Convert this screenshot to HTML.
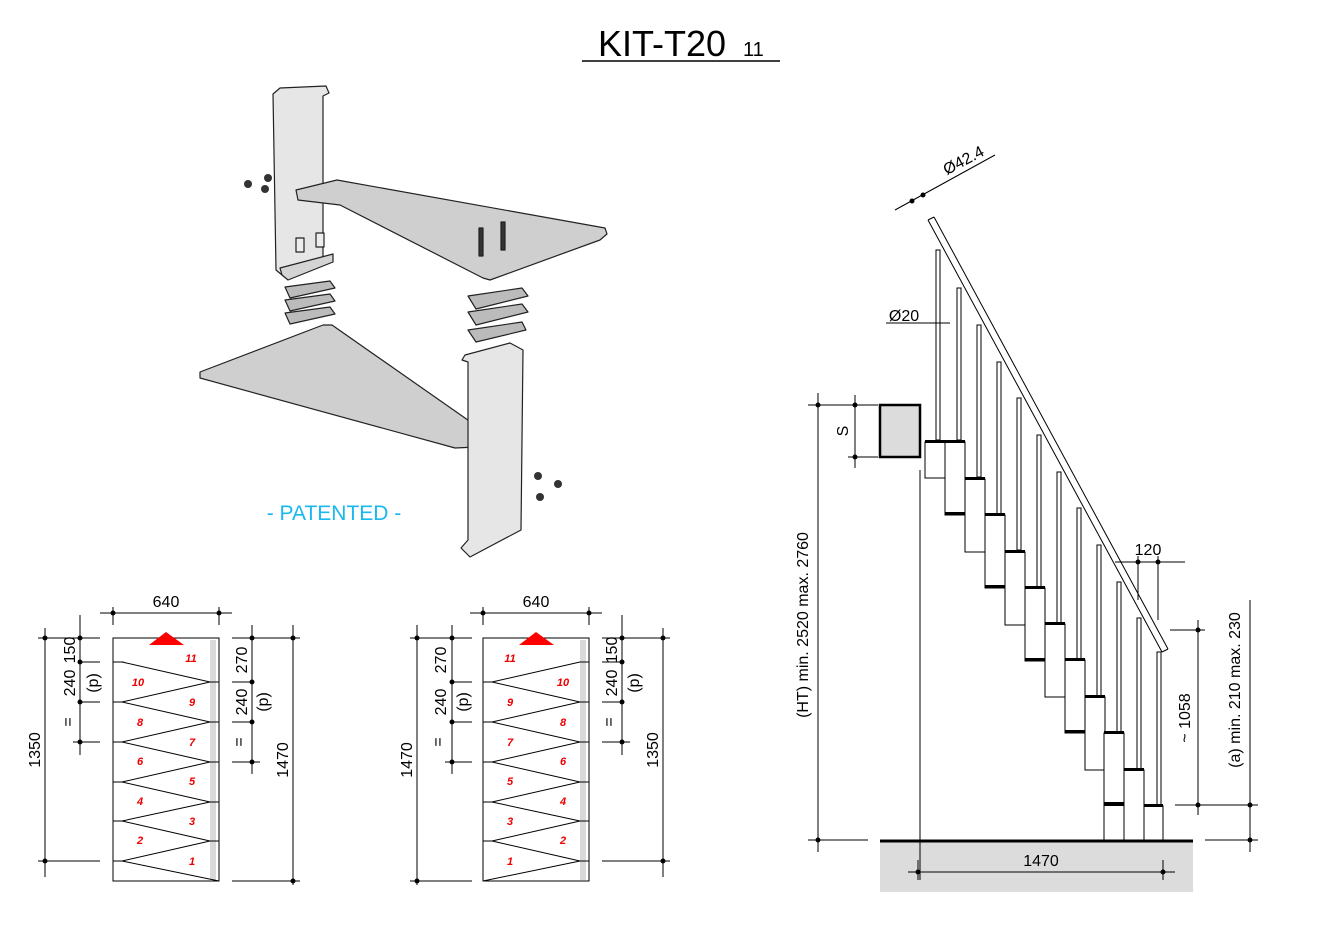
<!DOCTYPE html>
<html><head><meta charset="utf-8"><style>
html,body{margin:0;padding:0;background:#fff;}
svg{display:block;font-family:"Liberation Sans",sans-serif;}
</style></head><body>
<svg width="1335" height="937" viewBox="0 0 1335 937" xmlns="http://www.w3.org/2000/svg">
<!-- Title -->
<text x="598" y="56" font-size="36" fill="#000">KIT-T20</text>
<text x="743" y="56" font-size="20" fill="#000">11</text>
<line x1="582" y1="61" x2="780" y2="61" stroke="#000" stroke-width="1.5"/>

<!-- 3D exploded -->
<g stroke="#222" stroke-width="1.2" stroke-linejoin="round">
<polygon points="273,94 280,88 326,86 329,93 323,96 323,262 300,270 282,275 276,270" fill="#e6e6e6"/>
<polygon points="282,275 280,268 333,254 333,262 288,280" fill="#d4d4d4"/>
<polygon points="296,190 337,180 605,228 607,234 600,240 490,280 483,278 340,205 298,200" fill="#cfcfcf"/>
<polygon points="200,372 323,325 332,325 475,425 477,447 455,448 200,378" fill="#cfcfcf"/>
<polygon points="465,355 510,343 523,350 521,530 470,557 461,548 468,540 468,362 462,360" fill="#e6e6e6"/>
<polygon points="285,287 330,281 335,288 290,298" fill="#bbb"/>
<polygon points="285,300 330,294 335,301 290,311" fill="#bbb"/>
<polygon points="285,313 330,307 335,314 290,324" fill="#bbb"/>
<polygon points="468,296 522,288 528,296 476,309" fill="#bbb"/>
<polygon points="468,312 522,304 528,312 476,325" fill="#bbb"/>
<polygon points="468,330 522,322 526,330 476,342" fill="#bbb"/>
<rect x="479" y="228" width="4" height="28" fill="#333"/>
<rect x="501" y="222" width="4" height="28" fill="#333"/>
<rect x="296" y="238" width="8" height="14" fill="#eee"/>
<rect x="316" y="233" width="8" height="14" fill="#eee"/>
</g>
<g fill="#333">
<circle cx="248" cy="184" r="4"/><circle cx="268" cy="178" r="4"/><circle cx="265" cy="189" r="4"/>
<circle cx="538" cy="476" r="4"/><circle cx="558" cy="484" r="4"/><circle cx="540" cy="497" r="4"/>
</g>
<text x="334" y="520" font-size="21" fill="#1ab8f0" text-anchor="middle">- PATENTED -</text>

<!-- LEFT PLAN -->
<g stroke="#000" stroke-width="1" fill="none">
<rect x="210" y="640" width="6" height="240" fill="#d9d9d9" stroke="none"/>
<rect x="113" y="638" width="106" height="243"/>
<path d="M113,662 H122 L210,682 L122,702 L210,722 L122,742 L210,762 L122,782 L210,802 L122,821 L210,841 L122,861 L219,881 M113,702 H122 M113,742 H122 M113,782 H122 M113,821 H122 M113,861 H122 M122,662 L210,682 M210,682 H219 M210,722 H219 M210,762 H219 M210,802 H219 M210,841 H219"/>
<!-- dims -->
<line x1="113" y1="613" x2="219" y2="613"/><line x1="100" y1="613" x2="232" y2="613"/>
<line x1="113" y1="607" x2="113" y2="625"/><line x1="219" y1="607" x2="219" y2="625"/>
<line x1="45" y1="628" x2="45" y2="877"/><line x1="38" y1="638" x2="100" y2="638"/><line x1="38" y1="861" x2="100" y2="861"/>
<line x1="80" y1="615" x2="80" y2="755"/><line x1="80" y1="662" x2="100" y2="662"/><line x1="80" y1="702" x2="100" y2="702"/><line x1="73" y1="742" x2="100" y2="742"/>
<line x1="252" y1="625" x2="252" y2="774"/><line x1="232" y1="638" x2="300" y2="638"/><line x1="232" y1="682" x2="252" y2="682"/><line x1="232" y1="722" x2="252" y2="722"/><line x1="232" y1="762" x2="260" y2="762"/>
<line x1="293" y1="625" x2="293" y2="885"/><line x1="232" y1="881" x2="300" y2="881"/>
</g>
<g fill="#000">
<circle cx="113" cy="613" r="2.5"/><circle cx="219" cy="613" r="2.5"/>
<circle cx="45" cy="638" r="2.5"/><circle cx="45" cy="861" r="2.5"/>
<circle cx="80" cy="638" r="2.5"/><circle cx="80" cy="662" r="2.5"/><circle cx="80" cy="702" r="2.5"/><circle cx="80" cy="742" r="2.5"/>
<circle cx="252" cy="638" r="2.5"/><circle cx="252" cy="682" r="2.5"/><circle cx="252" cy="722" r="2.5"/><circle cx="252" cy="762" r="2.5"/>
<circle cx="293" cy="638" r="2.5"/><circle cx="293" cy="881" r="2.5"/>
</g>
<polygon points="149,645 166,632 184,645" fill="#f00"/>
<g font-size="16" fill="#000">
<text x="166" y="607" text-anchor="middle">640</text>
<text transform="translate(40,750) rotate(-90)" text-anchor="middle">1350</text>
<text transform="translate(75,650) rotate(-90)" text-anchor="middle">150</text>
<text transform="translate(75,683) rotate(-90)" text-anchor="middle">240</text>
<text transform="translate(98,683) rotate(-90)" text-anchor="middle">(p)</text>
<text transform="translate(73,722) rotate(-90)" text-anchor="middle">=</text>
<text transform="translate(247,660) rotate(-90)" text-anchor="middle">270</text>
<text transform="translate(247,702) rotate(-90)" text-anchor="middle">240</text>
<text transform="translate(268,702) rotate(-90)" text-anchor="middle">(p)</text>
<text transform="translate(244,742) rotate(-90)" text-anchor="middle">=</text>
<text transform="translate(288,760) rotate(-90)" text-anchor="middle">1470</text>
</g>
<g font-size="11" fill="#e00" font-style="italic" font-weight="bold" text-anchor="middle">
<text x="191" y="662">11</text><text x="138" y="686">10</text><text x="192" y="706">9</text><text x="140" y="726">8</text><text x="192" y="746">7</text><text x="140" y="765">6</text><text x="192" y="785">5</text><text x="140" y="805">4</text><text x="192" y="825">3</text><text x="140" y="844">2</text><text x="192" y="865">1</text>
</g>

<!-- RIGHT PLAN -->
<g stroke="#000" stroke-width="1" fill="none">
<rect x="580" y="640" width="6" height="240" fill="#d9d9d9" stroke="none"/>
<rect x="483" y="638" width="106" height="243"/>
<path d="M589,662 H580 L492,682 L580,702 L492,722 L580,742 L492,762 L580,782 L492,802 L580,821 L492,841 L580,861 L483,881 M589,702 H580 M589,742 H580 M589,782 H580 M589,821 H580 M589,861 H580 M492,682 H483 M492,722 H483 M492,762 H483 M492,802 H483 M492,841 H483"/>
<line x1="470" y1="613" x2="602" y2="613"/>
<line x1="483" y1="607" x2="483" y2="625"/><line x1="589" y1="607" x2="589" y2="625"/>
<line x1="417" y1="625" x2="417" y2="885"/><line x1="410" y1="638" x2="472" y2="638"/><line x1="410" y1="881" x2="472" y2="881"/>
<line x1="452" y1="625" x2="452" y2="774"/><line x1="452" y1="682" x2="472" y2="682"/><line x1="452" y1="722" x2="472" y2="722"/><line x1="445" y1="762" x2="472" y2="762"/>
<line x1="622" y1="615" x2="622" y2="755"/><line x1="602" y1="638" x2="670" y2="638"/><line x1="602" y1="662" x2="622" y2="662"/><line x1="602" y1="702" x2="622" y2="702"/><line x1="602" y1="742" x2="630" y2="742"/>
<line x1="663" y1="628" x2="663" y2="877"/><line x1="602" y1="861" x2="670" y2="861"/>
</g>
<g fill="#000">
<circle cx="483" cy="613" r="2.5"/><circle cx="589" cy="613" r="2.5"/>
<circle cx="417" cy="638" r="2.5"/><circle cx="417" cy="881" r="2.5"/>
<circle cx="452" cy="638" r="2.5"/><circle cx="452" cy="682" r="2.5"/><circle cx="452" cy="722" r="2.5"/><circle cx="452" cy="762" r="2.5"/>
<circle cx="622" cy="638" r="2.5"/><circle cx="622" cy="662" r="2.5"/><circle cx="622" cy="702" r="2.5"/><circle cx="622" cy="742" r="2.5"/>
<circle cx="663" cy="638" r="2.5"/><circle cx="663" cy="861" r="2.5"/>
</g>
<polygon points="519,645 536,632 554,645" fill="#f00"/>
<g font-size="16" fill="#000">
<text x="536" y="607" text-anchor="middle">640</text>
<text transform="translate(412,760) rotate(-90)" text-anchor="middle">1470</text>
<text transform="translate(446,660) rotate(-90)" text-anchor="middle">270</text>
<text transform="translate(446,702) rotate(-90)" text-anchor="middle">240</text>
<text transform="translate(468,702) rotate(-90)" text-anchor="middle">(p)</text>
<text transform="translate(443,742) rotate(-90)" text-anchor="middle">=</text>
<text transform="translate(617,650) rotate(-90)" text-anchor="middle">150</text>
<text transform="translate(617,683) rotate(-90)" text-anchor="middle">240</text>
<text transform="translate(639,683) rotate(-90)" text-anchor="middle">(p)</text>
<text transform="translate(614,722) rotate(-90)" text-anchor="middle">=</text>
<text transform="translate(658,750) rotate(-90)" text-anchor="middle">1350</text>
</g>
<g font-size="11" fill="#e00" font-style="italic" font-weight="bold" text-anchor="middle">
<text x="510" y="662">11</text><text x="563" y="686">10</text><text x="510" y="706">9</text><text x="563" y="726">8</text><text x="510" y="746">7</text><text x="563" y="765">6</text><text x="510" y="785">5</text><text x="563" y="805">4</text><text x="510" y="825">3</text><text x="563" y="844">2</text><text x="510" y="865">1</text>
</g>

<!-- SIDE ELEVATION -->
<rect x="880" y="841" width="313" height="51" fill="#dcdcdc"/>
<line x1="880" y1="841" x2="1193" y2="841" stroke="#000" stroke-width="3"/>
<rect x="880" y="405" width="40" height="52" fill="#dcdcdc" stroke="#000" stroke-width="2.5"/>
<g stroke="#000" stroke-width="1" fill="none">
<line x1="920" y1="470" x2="920" y2="880"/>
<!-- handrail -->
<line x1="928" y1="220" x2="1162" y2="652"/>
<line x1="934" y1="217" x2="1168" y2="649"/>
<line x1="928" y1="220" x2="934" y2="217"/>
<line x1="1162" y1="652" x2="1168" y2="649"/>
</g>
<g stroke="#000" stroke-width="1" fill="#fff">
<!-- balusters -->
<rect x="936" y="250" width="4" height="190"/>
<rect x="957" y="288" width="4" height="152"/>
<rect x="977" y="325" width="4" height="152"/>
<rect x="997" y="362" width="4" height="152"/>
<rect x="1017" y="398" width="4" height="152"/>
<rect x="1037" y="435" width="4" height="152"/>
<rect x="1057" y="472" width="4" height="152"/>
<rect x="1077" y="508" width="4" height="152"/>
<rect x="1097" y="545" width="4" height="152"/>
<rect x="1117" y="582" width="4" height="152"/>
<rect x="1137" y="618" width="4" height="152"/>
<rect x="1157" y="652" width="4" height="154"/>
<!-- step blocks -->
<rect x="925" y="442" width="20" height="36"/>
<rect x="945" y="442" width="20" height="73"/>
<rect x="965" y="479" width="20" height="73"/>
<rect x="985" y="515" width="20" height="73"/>
<rect x="1005" y="552" width="20" height="73"/>
<rect x="1025" y="588" width="20" height="73"/>
<rect x="1045" y="624" width="20" height="73"/>
<rect x="1065" y="660" width="20" height="73"/>
<rect x="1085" y="697" width="20" height="73"/>
<rect x="1104" y="733" width="20" height="107"/>
<rect x="1124" y="770" width="20" height="70"/>
<rect x="1144" y="806" width="19" height="34"/>
</g>
<g fill="#000">
<rect x="925" y="440" width="40" height="3"/><rect x="965" y="477" width="20" height="3"/><rect x="985" y="513" width="20" height="3"/>
<rect x="1005" y="550" width="20" height="3"/><rect x="1025" y="586" width="20" height="3"/><rect x="1045" y="622" width="20" height="3"/>
<rect x="1065" y="658" width="20" height="3"/><rect x="1085" y="695" width="20" height="3"/><rect x="1104" y="731" width="20" height="3"/>
<rect x="1124" y="768" width="20" height="3"/><rect x="1144" y="804" width="19" height="3"/><rect x="1104" y="802" width="20" height="4"/>
<rect x="945" y="512" width="20" height="3"/><rect x="985" y="585" width="20" height="3"/><rect x="1025" y="658" width="20" height="3"/><rect x="1065" y="730" width="20" height="3"/>
</g>
<!-- dims side -->
<g stroke="#000" stroke-width="1" fill="none">
<line x1="818" y1="393" x2="818" y2="852"/><line x1="808" y1="405" x2="878" y2="405"/><line x1="808" y1="840" x2="868" y2="840"/>
<line x1="855" y1="395" x2="855" y2="468"/><line x1="848" y1="457" x2="878" y2="457"/>
<line x1="1250" y1="600" x2="1250" y2="852"/><line x1="1205" y1="840" x2="1258" y2="840"/>
<line x1="1198" y1="620" x2="1198" y2="815"/><line x1="1170" y1="630" x2="1205" y2="630"/><line x1="1175" y1="805" x2="1258" y2="805"/>
<line x1="1115" y1="562" x2="1185" y2="562"/><line x1="1138" y1="556" x2="1138" y2="600"/><line x1="1158" y1="556" x2="1158" y2="620"/>
<line x1="908" y1="872" x2="1175" y2="872"/><line x1="918" y1="860" x2="918" y2="880"/><line x1="1163" y1="860" x2="1163" y2="880"/>
<line x1="895" y1="210" x2="995" y2="155"/>
<line x1="886" y1="323" x2="950" y2="323"/>
</g>
<g fill="#000">
<circle cx="818" cy="405" r="2.5"/><circle cx="818" cy="840" r="2.5"/><circle cx="855" cy="405" r="2.5"/><circle cx="855" cy="457" r="2.5"/>
<circle cx="1250" cy="805" r="2.5"/><circle cx="1250" cy="840" r="2.5"/><circle cx="1198" cy="630" r="2.5"/><circle cx="1198" cy="805" r="2.5"/>
<circle cx="1138" cy="562" r="2.5"/><circle cx="1158" cy="562" r="2.5"/><circle cx="918" cy="872" r="2.5"/><circle cx="1163" cy="872" r="2.5"/>
<circle cx="912" cy="201" r="2.5"/><circle cx="923" cy="195" r="2.5"/>
</g>
<g font-size="16" fill="#000">
<text transform="translate(808,625) rotate(-90)" text-anchor="middle">(HT) min. 2520 max. 2760</text>
<text transform="translate(848,431) rotate(-90)" text-anchor="middle">S</text>
<text transform="translate(1240,690) rotate(-90)" text-anchor="middle">(a) min. 210 max. 230</text>
<text transform="translate(1190,718) rotate(-90)" text-anchor="middle">~ 1058</text>
<text x="1148" y="555" text-anchor="middle">120</text>
<text x="1041" y="866" text-anchor="middle">1470</text>
<text x="904" y="321" text-anchor="middle">Ø20</text>
<text transform="translate(966,165) rotate(-28)" text-anchor="middle">Ø42.4</text>
</g>
</svg>
</body></html>
